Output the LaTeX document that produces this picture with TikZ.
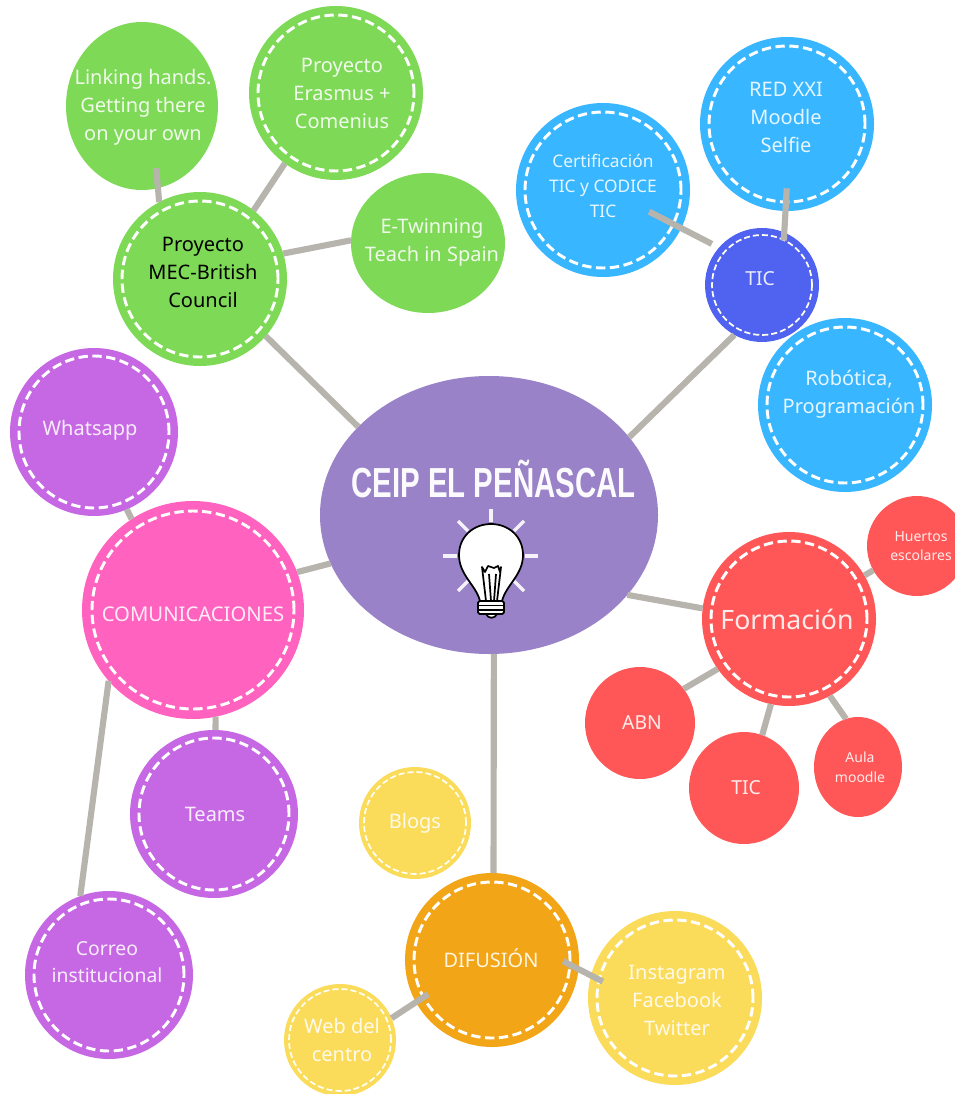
\documentclass[tikz,border=0pt]{standalone}
\usepackage{fontspec}
\usetikzlibrary{shapes.geometric}
\setmainfont{Noto Sans}
\newfontfamily\titlefam{Liberation Sans}
\definecolor{grn}{HTML}{7ED957}
\definecolor{sky}{HTML}{38B6FF}
\definecolor{ind}{HTML}{4F63F0}
\definecolor{rred}{HTML}{FF5757}
\definecolor{prp}{HTML}{C668E4}
\definecolor{pnk}{HTML}{FF62BF}
\definecolor{ylw}{HTML}{FBDB5A}
\definecolor{org}{HTML}{F2A516}
\definecolor{lav}{HTML}{9A82C8}
\definecolor{gry}{HTML}{B6B4AD}
\tikzset{
  bub/.style n args={3}{ellipse,inner sep=0pt,outer sep=0pt,fill=#3,minimum width=#1*1.5pt,minimum height=#2*1.5pt},
  ringbig/.style={draw=white,line width=2.2pt,dash pattern=on 7pt off 3.4pt},
  ringsmall/.style={draw=white!95!yellow,line width=1.3pt,dash pattern=on 4.6pt off 2.2pt},
  conn/.style={draw=gry,line width=4.6pt},
  lab/.style={text=white,text opacity=.88,align=center,inner sep=0pt},
  labs/.style={lab,font=\fontsize{15}{21}\selectfont},
  ray/.style={draw=white,line width=2.6pt,opacity=.9},
  ink/.style={draw=black,line width=1.3pt,line join=round}
}
\newcommand{\rbig}[3]{\draw[ringbig] (#1.center) ellipse [x radius=#2*.75pt,y radius=#3*.75pt];}
\newcommand{\rsmall}[3]{\draw[ringsmall] (#1.center) ellipse [x radius=#2*.75pt,y radius=#3*.75pt];}
\begin{document}
\begin{tikzpicture}[x=.75pt,y=-.75pt]
\useasboundingbox (0,0) rectangle (955,1094);
\clip (0,0) rectangle (955,1094);
\fill[white] (0,0) rectangle (955,1094);
% bubbles
\node[bub={76}{84}{grn}] (lk) at (142,106) {};
\node[bub={87}{87}{grn}] (eras) at (336,93) {};
\node[bub={87}{87}{grn}] (mec) at (200,279) {};
\node[bub={77}{70}{grn}] (etw) at (428,243) {};
\node[bub={87}{87}{sky}] (cert) at (603,190) {};
\node[bub={87}{87}{sky}] (red) at (787,124) {};
\node[bub={87}{87}{sky}] (rob) at (845,405) {};
\node[bub={57}{57}{ind}] (tic) at (762,285) {};
\node[bub={169}{139}{lav}] (cen) at (489,515) {};
\node[bub={84}{84}{prp}] (wha) at (94,432) {};
\node[bub={111}{109}{pnk}] (com) at (193,610) {};
\node[bub={84}{84}{prp}] (tea) at (214,814) {};
\node[bub={84}{84}{prp}] (cor) at (109,975) {};
\node[bub={56}{56}{ylw}] (blo) at (415,823) {};
\node[bub={87}{87}{org}] (dif) at (492,960) {};
\node[bub={56}{56}{ylw}] (web) at (340,1040) {};
\node[bub={87}{87}{ylw}] (ins) at (675,998) {};
\node[bub={87}{87}{rred}] (for) at (789,619) {};
\node[bub={50}{50}{rred}] (hue) at (917,546) {};
\node[bub={55}{56}{rred}] (abn) at (640,723) {};
\node[bub={55}{56}{rred}] (tre) at (744,788) {};
\node[bub={44}{50}{rred}] (aul) at (858,767) {};
% dashed rings
\rbig{eras}{78}{78}\rbig{mec}{78}{78}\rbig{cert}{78}{78}\rbig{red}{78}{78}\rbig{rob}{78}{78}
\rsmall{tic}{50}{50}
\rbig{wha}{75}{76}\rbig{com}{101}{99}\rbig{tea}{75}{76}\rbig{cor}{75}{76}
\rsmall{blo}{51}{51}\rbig{dif}{78}{78}\rsmall{web}{51}{51}\rbig{ins}{78}{78}\rbig{for}{78}{78}
% connectors
\draw[conn,shorten <=-15pt] (lk.-79) -- (mec.118);
\draw[conn] (mec.52) -- (eras.234);
\draw[conn] (mec.17) -- (etw.178);
\draw[conn] (mec.-41) -- (cen.146);
\draw[conn] (cen.29) -- (tic.241);
\draw[conn,shorten <=-27pt,shorten >=6pt] (cert.-26) -- (tic.139);
\draw[conn,shorten <=-17pt,shorten >=-6pt] (red.-91.3) -- (tic.67);
\draw[conn] (cen.-30) -- (for.173);
\draw[conn] (for.30) -- (hue.209);
\draw[conn] (for.215) -- (abn.38);
\draw[conn] (for.-102.5) -- (tre.71);
\draw[conn] (for.-62) -- (aul.104);
\draw[conn] (cen.-88) -- (dif.89);
\draw[conn,shorten <=-13pt,shorten >=-10pt] (dif.-6) -- (ins.165);
\draw[conn,shorten <=-11pt] (dif.209) -- (web.23);
\draw[conn] (cen.197) -- (com.20);
\draw[conn] (wha.-67.6) -- (com.124.6);
\draw[conn] (com.-78) -- (tea.89);
\draw[conn] (com.220) -- (cor.110);
% labels
\node[labs] (tlk) at (143,107) {Linking hands.\\Getting there\\on your own};
\node[labs] (ter) at (342,93) {Proyecto\\Erasmus +\\Comenius};
\node[labs,text=black,text opacity=1] (tme) at (203,272) {Proyecto\\MEC-British\\Council};
\node[labs] (tet) at (432,243) {E-Twinning\\Teach in Spain};
\node[lab,font=\fontsize{13}{19}\selectfont] (tce) at (603,186) {Certificación\\TIC y CODICE\\TIC};
\node[labs] (tre2) at (786,117) {RED XXI\\Moodle\\Selfie};
\node[lab,font=\fontsize{14.5}{19}\selectfont] (tti) at (760,279) {TIC};
\node[labs] (tro) at (849,394) {Robótica,\\Programación};
\node[labs] (twh) at (90,430) {Whatsapp};
\node[lab,font=\fontsize{15.2}{19}\selectfont] (tco) at (193,614) {COMUNICACIONES};
\node[labs] (tte) at (215,814) {Teams};
\node[lab,font=\fontsize{14.5}{20.2}\selectfont] (tcr) at (107,962) {Correo\\institucional};
\node[labs] (tbl) at (415,823) {Blogs};
\node[lab,font=\fontsize{15}{19}\selectfont] (tdi) at (491,958) {DIFUSIÓN};
\node[labs] (twe) at (342,1040) {Web del\\centro};
\node[labs] (tin) at (677,1000) {Instagram\\Facebook\\Twitter};
\node[lab,font=\fontsize{20}{25}\selectfont] (tfo) at (787,619) {Formación};
\node[lab,font=\fontsize{10.5}{14.5}\selectfont] (thu) at (921,546) {Huertos\\escolares};
\node[lab,font=\fontsize{14.5}{19}\selectfont] (tab) at (642,723) {ABN};
\node[lab,font=\fontsize{14.5}{19}\selectfont] (ttr) at (746,788) {TIC};
\node[lab,font=\fontsize{10.5}{15}\selectfont] (tau) at (860,767) {Aula\\moodle};
% title
\node[inner sep=0pt,text=white!96!lav] (ttl) at (493.5,479) {\scalebox{.70}[1]{\titlefam\bfseries\fontsize{31.5}{34}\selectfont CEIP EL PEÑASCAL}};
% bulb
\foreach \xa/\ya/\xb/\yb in {491/509/491/522,525/556/538/556,443/556/457/556,458/521/468/531,524/521/514/531,458/591/468/581,524/591/514/581}
  \draw[ray] (\xa,\ya) -- (\xb,\yb);
\draw[ink,fill=white] (480,601) .. controls (476,585) and (459,575) .. (459,555)
  .. controls (459,536) and (474,524) .. (491,524)
  .. controls (508,524) and (523,536) .. (523,555)
  .. controls (523,575) and (506,585) .. (502,601) -- cycle;
\draw[ink,fill=white] (486,601) -- (482,567) -- (485,572) -- (488,566) -- (494,568) -- (498,566) -- (500,572) -- (501,567) -- (497,601) -- cycle;
\draw[ink] (489,574) -- (491,601) (496,574) -- (494,601);
\draw[ink,fill=white] (486,614) .. controls (488,619) and (495,619) .. (497,614) -- cycle;
\draw[ink,fill=white,rounded corners=1.2pt] (478,601) rectangle (504,614);
\draw[ink] (478,605.5) -- (504,605.5) (478,610) -- (504,610);
\end{tikzpicture}
\end{document}
